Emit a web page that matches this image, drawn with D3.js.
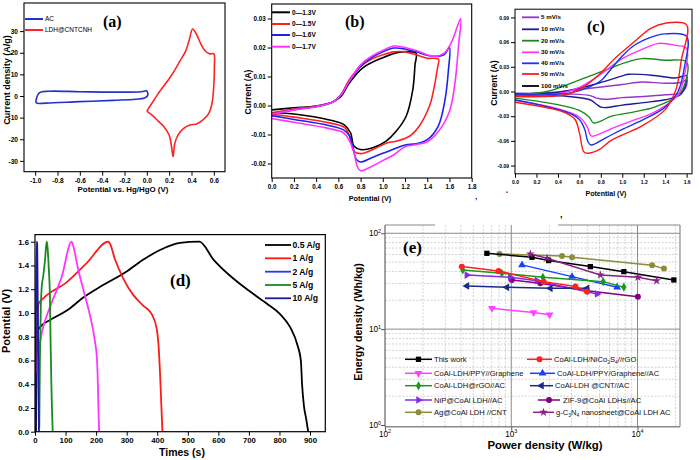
<!DOCTYPE html>
<html><head><meta charset="utf-8">
<script src="https://cdn.jsdelivr.net/npm/d3@7/dist/d3.min.js"></script>
<style>body{margin:0;background:#fff}svg{display:block}</style>
</head><body><script>
// ---------------- DATA ----------------
// (a) CV of electrodes
const aXTicks=[-1.0,-0.8,-0.6,-0.4,-0.2,0.0,0.2,0.4,0.6];
const aXLabels=["-1.0","-0.8","-0.6","-0.4","-0.2","0.0","0.2","0.4","0.6"];
const aYTicks=[-30,-20,-10,0,10,20,30];
const aYLabels=["-30","-20","-10","0","10","20","30"];
const aNames=["AC","LDH@CNTCNH"];
const aAC=[[0,2.5],[-0.05,2.0],[-0.3,1.8],[-0.6,2.0],[-0.88,2.2],[-0.96,1.6],[-0.99,-1.5],[-0.99,-3.2],[-0.9,-3.3],[-0.6,-2.6],[-0.3,-2.0],[-0.1,-1.5],[-0.02,-0.9],[0.01,0.5],[0,2.5]];
const aLDH=[[0,-7],[0.05,-3],[0.1,1],[0.15,4.5],[0.2,8],[0.25,12],[0.3,16.5],[0.35,21],[0.38,26],[0.41,31],[0.44,29],[0.48,24.5],[0.52,21],[0.56,19.5],[0.6,19.5],[0.605,14],[0.6,5],[0.585,-3],[0.555,-8],[0.5,-11.2],[0.45,-12.8],[0.38,-13.5],[0.33,-15],[0.28,-18],[0.25,-22],[0.235,-28],[0.22,-23],[0.2,-18],[0.15,-14],[0.1,-11.5],[0.05,-9],[0,-7]];

// (b) CV at different voltage windows
const bXTicks=[0,0.2,0.4,0.6,0.8,1.0,1.2,1.4,1.6,1.8];
const bXLabels=["0.0","0.2","0.4","0.6","0.8","1.0","1.2","1.4","1.6","1.8"];
const bYTicks=[-0.02,-0.01,0,0.01,0.02,0.03];
const bYLabels=["-0.02","-0.01","0.00","0.01","0.02","0.03"];
const bNames=["0\u20141.3V","0\u20141.5V","0\u20141.6V","0\u20141.7V"];
const b13=[[0,-0.0015],[0.2,-0.0008],[0.4,-0.0002],[0.55,0.0012],[0.62,0.003],[0.7,0.0078],[0.82,0.013],[1.0,0.0165],[1.15,0.0184],[1.25,0.0185],[1.3,0.018],[1.29,0.014],[1.27,0.0055],[1.21,-0.0037],[1.12,-0.0089],[1.03,-0.0123],[0.91,-0.0146],[0.8,-0.0152],[0.74,-0.014],[0.71,-0.0094],[0.65,-0.0066],[0.52,-0.005],[0.22,-0.003],[0,-0.0025]];
const b15=[[0,-0.0025],[0.2,-0.0012],[0.4,-0.0003],[0.55,0.0012],[0.62,0.0035],[0.7,0.009],[0.8,0.0135],[0.9,0.016],[1.0,0.0175],[1.1,0.0185],[1.2,0.0185],[1.3,0.0175],[1.4,0.0163],[1.5,0.016],[1.49,0.0125],[1.45,0.004],[1.42,-0.0002],[1.33,-0.007],[1.24,-0.0106],[1.12,-0.0123],[1.03,-0.013],[0.91,-0.0152],[0.8,-0.0166],[0.74,-0.0158],[0.71,-0.0117],[0.66,-0.0077],[0.52,-0.006],[0.2,-0.004],[0,-0.003]];
const b16=[[0,-0.003],[0.2,-0.0015],[0.4,-0.0004],[0.55,0.0012],[0.62,0.0035],[0.7,0.0085],[0.8,0.0135],[0.9,0.0165],[1.0,0.0185],[1.1,0.0198],[1.2,0.0195],[1.3,0.0185],[1.45,0.017],[1.55,0.0175],[1.6,0.020],[1.59,0.012],[1.56,0.002],[1.5,-0.007],[1.4,-0.0118],[1.3,-0.0132],[1.2,-0.0136],[1.1,-0.015],[1.0,-0.0165],[0.9,-0.018],[0.8,-0.0195],[0.76,-0.0185],[0.73,-0.014],[0.7,-0.0105],[0.65,-0.0085],[0.5,-0.0068],[0.2,-0.0048],[0,-0.0035]];
const b17=[[0,-0.003],[0.2,-0.0015],[0.4,-0.0004],[0.55,0.0012],[0.62,0.0035],[0.7,0.0085],[0.8,0.014],[0.9,0.017],[1.0,0.019],[1.1,0.0205],[1.2,0.020],[1.3,0.019],[1.45,0.017],[1.55,0.018],[1.62,0.022],[1.7,0.030],[1.68,0.020],[1.65,0.008],[1.6,-0.002],[1.5,-0.009],[1.4,-0.0125],[1.3,-0.0135],[1.2,-0.0142],[1.1,-0.017],[1.0,-0.019],[0.9,-0.021],[0.8,-0.0225],[0.77,-0.021],[0.74,-0.016],[0.7,-0.0122],[0.65,-0.0095],[0.5,-0.0078],[0.2,-0.0058],[0,-0.0045]];

// (c) CV at different scan rates
const cXTicks=[0,0.2,0.4,0.6,0.8,1.0,1.2,1.4,1.6];
const cXLabels=["0.0","0.2","0.4","0.6","0.8","1.0","1.2","1.4","1.6"];
const cYTicks=[-0.09,-0.06,-0.03,0,0.03,0.06,0.09];
const cYLabels=["-0.09","-0.06","-0.03","0.00","0.03","0.06","0.09"];
const cNames=["5 mV/s","10 mV/s","20 mV/s","30 mV/s","40 mV/s","50 mV/s","100 mV/s"];
const c5=[[0,-0.003],[0.4,-0.0005],[0.7,0.004],[1.0,0.0085],[1.18,0.0115],[1.4,0.010],[1.55,0.011],[1.6,0.014],[1.59,0.004],[1.54,-0.002],[1.4,-0.004],[1.2,-0.006],[1.0,-0.0075],[0.84,-0.0095],[0.76,-0.008],[0.7,-0.005],[0.5,-0.003],[0,-0.002]];
const c10=[[0,-0.003],[0.4,-0.001],[0.6,0.004],[0.8,0.011],[1.0,0.019],[1.06,0.021],[1.3,0.0195],[1.5,0.0165],[1.6,0.019],[1.59,0.008],[1.54,-0.004],[1.4,-0.010],[1.2,-0.0135],[1.0,-0.0165],[0.85,-0.0195],[0.8,-0.019],[0.76,-0.0155],[0.7,-0.010],[0.5,-0.006],[0,-0.004]];
const c20=[[0,-0.004],[0.3,0.0],[0.5,0.009],[0.7,0.019],[0.9,0.029],[1.05,0.036],[1.18,0.040],[1.4,0.038],[1.6,0.036],[1.59,0.012],[1.52,-0.005],[1.3,-0.019],[1.1,-0.025],[0.9,-0.030],[0.78,-0.037],[0.73,-0.038],[0.69,-0.031],[0.6,-0.023],[0.4,-0.016],[0,-0.008]];
const c30=[[0,-0.005],[0.4,-0.003],[0.6,0.005],[0.8,0.021],[1.0,0.040],[1.2,0.052],[1.34,0.0585],[1.5,0.056],[1.6,0.0525],[1.58,0.02],[1.52,-0.004],[1.3,-0.025],[1.1,-0.035],[0.9,-0.045],[0.76,-0.053],[0.71,-0.054],[0.67,-0.042],[0.6,-0.031],[0.4,-0.021],[0,-0.011]];
const c40=[[0,-0.004],[0.5,-0.002],[0.7,0.006],[0.8,0.013],[0.9,0.028],[1.0,0.043],[1.1,0.055],[1.27,0.066],[1.4,0.070],[1.6,0.067],[1.58,0.03],[1.52,0.0],[1.4,-0.019],[1.2,-0.034],[1.0,-0.046],[0.85,-0.056],[0.71,-0.065],[0.68,-0.061],[0.65,-0.046],[0.6,-0.034],[0.5,-0.026],[0,-0.010]];
const c50=[[0,-0.006],[0.47,-0.004],[0.62,0.004],[0.78,0.020],[0.93,0.040],[1.09,0.058],[1.27,0.077],[1.4,0.083],[1.6,0.081],[1.55,0.038],[1.5,0.002],[1.4,-0.022],[1.18,-0.042],[0.9,-0.059],[0.78,-0.071],[0.67,-0.075],[0.64,-0.073],[0.6,-0.050],[0.56,-0.034],[0.47,-0.026],[0.31,-0.020],[0,-0.013]];

// (d) galvanostatic charge/discharge
const dXTicks=[0,100,200,300,400,500,600,700,800,900];
const dXLabels=["0","100","200","300","400","500","600","700","800","900"];
const dYTicks=[0,0.2,0.4,0.6,0.8,1.0,1.2,1.4,1.6];
const dYLabels=["0.0","0.2","0.4","0.6","0.8","1.0","1.2","1.4","1.6"];
const dNames=["0.5 A/g","1 A/g","2 A/g","5 A/g","10 A/g"];
const d05=[[3,0],[5,0.5],[9,0.85],[20,0.89],[49,0.94],[104,1.02],[158,1.13],[213,1.22],[300,1.35],[355,1.45],[409,1.53],[474,1.59],[538,1.60],[584,1.45],[649,1.29],[704,1.18],[758,1.08],[802,0.99],[835,0.88],[860,0.72],[870,0.60],[874,0.40],[880,0.22],[888,0.10],[894,0]];
const d1=[[4,0.5],[7,0.85],[12,1.08],[30,1.13],[104,1.26],[169,1.42],[240,1.60],[244,1.59],[262,1.45],[289,1.29],[322,1.15],[355,1.06],[382,0.99],[398,0.87],[405,0.70],[409,0.50],[413,0.25],[417,0]];
const d2=[[4,0.5],[8,0.6],[22,0.83],[49,1.05],[87,1.30],[120,1.60],[122,1.59],[142,1.36],[164,1.14],[180,0.98],[195,0.78],[203,0.60],[206,0.38],[208,0.15],[210,0]];
const d5=[[14,0.03],[16,0.6],[19,1.05],[22,1.22],[27,1.31],[33,1.45],[38,1.60],[40,1.58],[45,1.38],[49,1.12],[51,0.75],[54,0.35],[56,0.15],[58,0]];
const d10=[[2,0.05],[3,0.8],[5,1.60],[7,1.59],[9,1.1],[11,0.6],[12,0.25],[13,0]];

// (e) Ragone plot
const eXTickVals=[100,1000,10000];
const eXTickExp=["2","3","4"];
const eYTickVals=[1,10,100];
const eYTickExp=["0","1","2"];
const eNames=["This work","CoAl-LDH/PPY//Graphene","CoAl-LDH@rGO//AC","NiP@CoAl LDH//AC","Ag@CoAl LDH //CNT",
  "CoAl-LDH/NiCo_2S_4//rGO","CoAl-LDH/PPY/Graphene//AC","CoAl-LDH @CNT//AC","ZIF-9@CoAl LDHs//AC","g-C_3N_4 nanosheet@CoAl LDH AC"];
const eThisWork=[[641,61.8],[1459,56.2],[1977,51.9],[4233,44.9],[7795,39.8],[19400,32.6]];
const ePPYGraphene=[[703,16.5],[1503,14.9],[2014,14.1]];
const eRGO=[[413,41.4],[843,38.3],[1782,34.8],[5347,31.3],[7795,27.4]];
const eNiP=[[445,36.7],[982,34.8],[1600,32.0],[4786,23.3]];
const eAg=[[807,60.8],[2523,58.0],[3030,56.2],[13060,46.4],[16200,42.8]];
const eNiCoS=[[406,44.9],[793,40.5],[1806,31.3],[3224,27.8],[3990,24.6]];
const ePPYGrapheneAC=[[1216,46.8],[3030,35.3],[6900,27.4]];
const eCNT=[[445,28.2],[924,27.3],[2040,26.7],[3990,26.7]];
const eZIF=[[1012,32.6],[1698,30.1],[3990,25.2],[10070,21.8]];
const eCN=[[1416,60.8],[1919,54.8],[5080,36.7],[10070,34.8],[14160,32.0]];

// ---------------- DRAWING ----------------
const FONT="'Liberation Sans', Arial, sans-serif";
const svg=d3.select("body").append("svg").attr("width",700).attr("height",460).style("font-family",FONT);
svg.append("rect").attr("width",700).attr("height",460).attr("fill","#fff");
const defs=svg.append("defs");

function rotText(g,t,x,y,size){
  g.append("text").attr("transform",`translate(${x},${y}) rotate(-90)`).attr("text-anchor","middle")
   .attr("dominant-baseline","middle").attr("font-size",size).attr("font-weight","bold").text(t);
}

function linPanel(o){
  const g=svg.append("g");
  const x=d3.scaleLinear().domain(o.xd).range([o.l,o.r]);
  const y=d3.scaleLinear().domain(o.yd).range([o.b,o.t]);
  const id="clip"+o.name;
  defs.append("clipPath").attr("id",id).append("rect").attr("x",o.l).attr("y",o.t).attr("width",o.r-o.l).attr("height",o.b-o.t);
  const line=d3.line().x(d=>x(d[0])).y(d=>y(d[1])).curve(o.curve||d3.curveCatmullRom.alpha(0.5));
  const cg=g.append("g").attr("clip-path",`url(#${id})`);
  o.series.forEach(s=>cg.append("path").attr("d",line(s.data)).attr("fill","none").attr("stroke",s.color)
     .attr("stroke-width",o.sw).attr("stroke-linejoin","round"));
  g.append("rect").attr("x",o.l).attr("y",o.t).attr("width",o.r-o.l).attr("height",o.b-o.t)
   .attr("fill","none").attr("stroke","#000").attr("stroke-width",o.fw||1);
  // minor ticks
  const xmin=d3.range(o.xm[0],o.xm[1]+1e-9,o.xm[2]);
  const ymin=d3.range(o.ym[0],o.ym[1]+1e-9,o.ym[2]);
  const xa=g.append("g").attr("transform",`translate(0,${o.b})`);
  xa.call(d3.axisBottom(x).tickValues(xmin).tickFormat("").tickSize(2).tickSizeOuter(0));
  xa.call(d3.axisBottom(x).tickValues(o.xt).tickFormat((d,i)=>o.xl[i]).tickSize(4).tickSizeOuter(0).tickPadding(o.xpad));
  const ya=g.append("g").attr("transform",`translate(${o.l},0)`);
  ya.call(d3.axisLeft(y).tickValues(ymin).tickFormat("").tickSize(2).tickSizeOuter(0));
  ya.call(d3.axisLeft(y).tickValues(o.yt).tickFormat((d,i)=>o.yl[i]).tickSize(4).tickSizeOuter(0).tickPadding(o.ypad));
  [xa,ya].forEach(a=>{a.selectAll(".domain").remove();a.selectAll("line").attr("stroke","#000");
    a.selectAll("text").attr("font-size",o.tf).attr("font-weight","bold").attr("font-family",FONT).attr("fill","#000");});
  // legend
  const L=o.legend;
  L.rows.forEach((ry,i)=>{
    g.append("line").attr("x1",L.x1).attr("x2",L.x2).attr("y1",ry).attr("y2",ry).attr("stroke",L.colors[i]).attr("stroke-width",L.sw||1.8);
    g.append("text").attr("x",L.tx).attr("y",ry).attr("dy","0.35em").attr("font-size",L.fs).attr("font-weight",L.fw).text(L.names[i]);
  });
  g.append("text").attr("x",o.label.x).attr("y",o.label.y).attr("font-family","'Liberation Serif', 'Times New Roman', serif")
   .attr("font-weight","bold").attr("font-size",o.label.fs||16).text(o.label.t);
  g.append("text").attr("x",o.xTitle.x).attr("y",o.xTitle.y).attr("text-anchor","middle").attr("font-size",o.xTitle.fs)
   .attr("font-weight","bold").text(o.xTitle.t);
  rotText(g,o.yTitle.t,o.yTitle.x,o.yTitle.y,o.yTitle.fs);
}

// (a)
linPanel({name:"a",l:24,r:225,t:3,b:171.7,xd:[-1.1,0.7],yd:[-35,43],
  xt:aXTicks,xl:aXLabels,xm:[-1.1,0.7,0.1],yt:aYTicks,yl:aYLabels,ym:[-35,40,5],tf:6.6,xpad:3,ypad:2,sw:1.6,fw:1.1,
  series:[{data:aAC,color:"#2233cc"},{data:aLDH,color:"#ff2222"}],
  legend:{x1:25,x2:43,tx:45,rows:[19,30],fs:6.5,fw:"normal",names:aNames,colors:["#2233cc","#ff2222"],sw:2},
  label:{t:"(a)",x:103,y:27},xTitle:{t:"Potential vs. Hg/HgO (V)",x:123,y:191.5,fs:7.9},
  yTitle:{t:"Current density (A/g)",x:8,y:80,fs:9}});

// (b)
linPanel({name:"b",l:271.7,r:471.7,t:4,b:178,xd:[0,1.8],yd:[-0.025,0.035],
  xt:bXTicks,xl:bXLabels,xm:[0,1.8,0.1],yt:bYTicks,yl:bYLabels,ym:[-0.025,0.035,0.005],tf:6.3,xpad:3,ypad:2,sw:1.6,fw:1.1,
  series:[{data:b13,color:"#000"},{data:b15,color:"#ff2020"},{data:b16,color:"#1a22ee"},{data:b17,color:"#ff33ff"}],
  legend:{x1:271.7,x2:290,tx:292,rows:[12.3,24,35,46.7],fs:6.6,fw:"bold",names:bNames,colors:["#000","#ff2020","#1a22ee","#ff33ff"],sw:2},
  label:{t:"(b)",x:345,y:27},xTitle:{t:"Potential (V)",x:370,y:201,fs:7.3},
  yTitle:{t:"Current (A)",x:249,y:92,fs:8.5}});

// (c)
linPanel({name:"c",l:515,r:692,t:9.2,b:173.8,xd:[0,1.65],yd:[-0.1,0.1],
  xt:cXTicks,xl:cXLabels,xm:[0,1.6,0.1],yt:cYTicks,yl:cYLabels,ym:[-0.09,0.09,0.015],tf:5,xpad:3,ypad:2,sw:1.4,fw:1,
  series:[{data:c5,color:"#9933cc"},{data:c10,color:"#1a1a9a"},{data:c20,color:"#1a8a1a"},{data:c30,color:"#ff33ff"},{data:c40,color:"#1a33ee"},{data:c50,color:"#ff1a1a"}],
  legend:{x1:522,x2:539,tx:541,rows:[17.3,29.3,40.7,52.3,63.3,74,86],fs:6.2,fw:"bold",names:cNames,
    colors:["#9933cc","#1a1a9a","#1a8a1a","#ff33ff","#1a33ee","#ff1a1a","#000"],sw:1.8},
  label:{t:"(c)",x:587,y:32},xTitle:{t:"Potential (V)",x:606,y:195.5,fs:7},
  yTitle:{t:"Current (A)",x:495,y:83,fs:8.6}});

// (d)
linPanel({name:"d",l:35,r:325.3,t:234.6,b:431.7,xd:[0,950],yd:[0,1.66],
  xt:dXTicks,xl:dXLabels,xm:[0,950,50],yt:dYTicks,yl:dYLabels,ym:[0,1.6,0.1],tf:7.8,xpad:2,ypad:2,sw:1.8,fw:1.2,
  curve:d3.curveMonotoneX,
  series:[{data:d05,color:"#000"},{data:d1,color:"#ff1a1a"},{data:d2,color:"#ff33ff"},{data:d5,color:"#1a8a1a"},{data:d10,color:"#1a1a9a"}],
  legend:{x1:265,x2:291,tx:292.5,rows:[245,258.3,271.7,285,298.3],fs:8.6,fw:"bold",names:dNames,
    colors:["#000","#ff1a1a","#3333ee","#1a8a1a","#1a1a9a"],sw:1.8},
  label:{t:"(d)",x:170,y:286,fs:17},xTitle:{t:"Times (s)",x:182,y:456,fs:10.5},
  yTitle:{t:"Potential (V)",x:7,y:321,fs:11}});

// (e) Ragone plot (log-log)
(function(){
  const g=svg.append("g");
  const L=385,R=680,T=225,B=426.7;
  const x=d3.scaleLog().domain([100,21700]).range([L,R]);
  const y=d3.scaleLog().domain([0.96,122]).range([B,T]);
  // minor grid
  const xm=[],ym=[];
  [100,1000,10000].forEach(dec=>{for(let k=2;k<=9;k++){const v=dec*k;if(v<21700)xm.push(v);}});
  [1,10].forEach(dec=>{for(let k=2;k<=9;k++)ym.push(dec*k);});
  xm.forEach(v=>g.append("line").attr("x1",x(v)).attr("x2",x(v)).attr("y1",T).attr("y2",B).attr("stroke","#c8c8c8").attr("stroke-width",0.8).attr("stroke-dasharray","2,1.5"));
  ym.forEach(v=>g.append("line").attr("x1",L).attr("x2",R).attr("y1",y(v)).attr("y2",y(v)).attr("stroke","#c8c8c8").attr("stroke-width",0.8).attr("stroke-dasharray","2,1.5"));
  // major grid
  [1000,10000].forEach(v=>g.append("line").attr("x1",x(v)).attr("x2",x(v)).attr("y1",T).attr("y2",B).attr("stroke","#8a8a8a").attr("stroke-width",1));
  [10,100].forEach(v=>g.append("line").attr("x1",L).attr("x2",R).attr("y1",y(v)).attr("y2",y(v)).attr("stroke","#8a8a8a").attr("stroke-width",1));
  // frame (top with gap)
  const fc="#8a8a8a";
  g.append("line").attr("x1",L).attr("x2",L).attr("y1",T).attr("y2",B).attr("stroke",fc).attr("stroke-width",1.6);
  g.append("line").attr("x1",L).attr("x2",R).attr("y1",B).attr("y2",B).attr("stroke",fc).attr("stroke-width",1.6);
  g.append("line").attr("x1",R).attr("x2",R).attr("y1",T).attr("y2",B).attr("stroke",fc).attr("stroke-width",1.2);
  g.append("line").attr("x1",L).attr("x2",435).attr("y1",T).attr("y2",T).attr("stroke",fc).attr("stroke-width",1.2);
  g.append("line").attr("x1",558).attr("x2",R).attr("y1",T).attr("y2",T).attr("stroke",fc).attr("stroke-width",1.2);
  // axis ticks
  const xa=g.append("g").attr("transform",`translate(0,${B})`);
  xa.call(d3.axisBottom(x).tickValues(xm).tickFormat("").tickSize(2).tickSizeOuter(0));
  xa.call(d3.axisBottom(x).tickValues(eXTickVals).tickFormat("").tickSize(4).tickSizeOuter(0));
  const ya=g.append("g").attr("transform",`translate(${L},0)`);
  ya.call(d3.axisLeft(y).tickValues(ym).tickFormat("").tickSize(2).tickSizeOuter(0));
  ya.call(d3.axisLeft(y).tickValues(eYTickVals).tickFormat("").tickSize(4).tickSizeOuter(0));
  [xa,ya].forEach(a=>{a.selectAll(".domain").remove();a.selectAll("line").attr("stroke","#555");});
  eXTickVals.forEach((v,i)=>{const t=g.append("text").attr("x",x(v)).attr("y",436.5).attr("text-anchor","middle").attr("font-size",8.2);
    t.append("tspan").text("10");t.append("tspan").attr("dy",-3.5).attr("font-size",5.3).text(eXTickExp[i]);});
  eYTickVals.forEach((v,i)=>{const t=g.append("text").attr("x",381).attr("y",y(v)+3).attr("text-anchor","end").attr("font-size",8.2);
    t.append("tspan").text("10");t.append("tspan").attr("dy",-3.5).attr("font-size",5.3).text(eYTickExp[i]);});
  // series
  const sets=[eThisWork,ePPYGraphene,eRGO,eNiP,eAg,eNiCoS,ePPYGrapheneAC,eCNT,eZIF,eCN];
  const cols=["#000000","#ff40ff","#1a9a1a","#8a2be2","#8c8c3c","#ff2020","#1a40ff","#1a2a8a","#800080","#8b1f8b"];
  const sym=[[d3.symbolSquare,0],[d3.symbolTriangle,180],[d3.symbolDiamond,0],[d3.symbolTriangle,90],[d3.symbolCircle,0],
             [d3.symbolCircle,0],[d3.symbolTriangle,0],[d3.symbolTriangle,-90],[d3.symbolCircle,0],[d3.symbolStar,0]];
  const sz=[28,26,24,26,28,28,26,26,28,24];
  const line=d3.line().x(d=>x(d[0])).y(d=>y(d[1]));
  const order=[4,0,8,9,3,7,6,2,5,1];
  order.forEach(i=>{
    g.append("path").attr("d",line(sets[i])).attr("fill","none").attr("stroke",cols[i]).attr("stroke-width",1.5);
    sets[i].forEach(p=>g.append("path").attr("d",d3.symbol(sym[i][0],sz[i])()).attr("fill",cols[i])
      .attr("transform",`translate(${x(p[0])},${y(p[1])}) rotate(${sym[i][1]})`));
  });
  // legend
  const rows=[359.3,373.3,385.7,400,412.3];
  const right=[[527,552,554],[530,555,557],[530,553,555],[538,560,563],[533,554,556]];
  function richText(t,str){
    const parts=str.split(/_(\d)/);
    parts.forEach((p,k)=>{if(k%2===1){t.append("tspan").attr("font-size",5).attr("dy",2).text(p);}
      else if(p){const ts=t.append("tspan").text(p);if(k>0)ts.attr("dy",-2);}});
  }
  eNames.forEach((n,i)=>{
    const r=i<5?[405,432,434]:right[i-5];
    const ry=rows[i%5];
    g.append("line").attr("x1",r[0]).attr("x2",r[1]).attr("y1",ry).attr("y2",ry).attr("stroke",cols[i]).attr("stroke-width",1.5);
    g.append("path").attr("d",d3.symbol(sym[i][0],sz[i])()).attr("fill",cols[i])
      .attr("transform",`translate(${(r[0]+r[1])/2},${ry}) rotate(${sym[i][1]})`);
    const t=g.append("text").attr("x",r[2]).attr("y",ry).attr("dy","0.35em").attr("font-size",7.6).attr("fill","#111");
    richText(t,n);
  });
  g.append("text").attr("x",403).attr("y",253).attr("font-family","'Liberation Serif', 'Times New Roman', serif")
   .attr("font-weight","bold").attr("font-size",17).text("(e)");
  g.append("text").attr("x",545).attr("y",448.5).attr("text-anchor","middle").attr("font-size",11.4).attr("font-weight","bold").text("Power density (W/kg)");
  rotText(g,"Energy density (Wh/kg)",359,322,10.6);
  g.append("text").attr("x",560).attr("y",222).attr("font-size",9).attr("font-weight","bold").text("\u2019");
})();
svg.append("text").attr("x",475).attr("y",199).attr("font-size",8).attr("font-weight","bold").text(",");
svg.append("text").attr("x",506).attr("y",196).attr("font-size",7).attr("font-weight","bold").text("\u2018");
</script></body></html>
